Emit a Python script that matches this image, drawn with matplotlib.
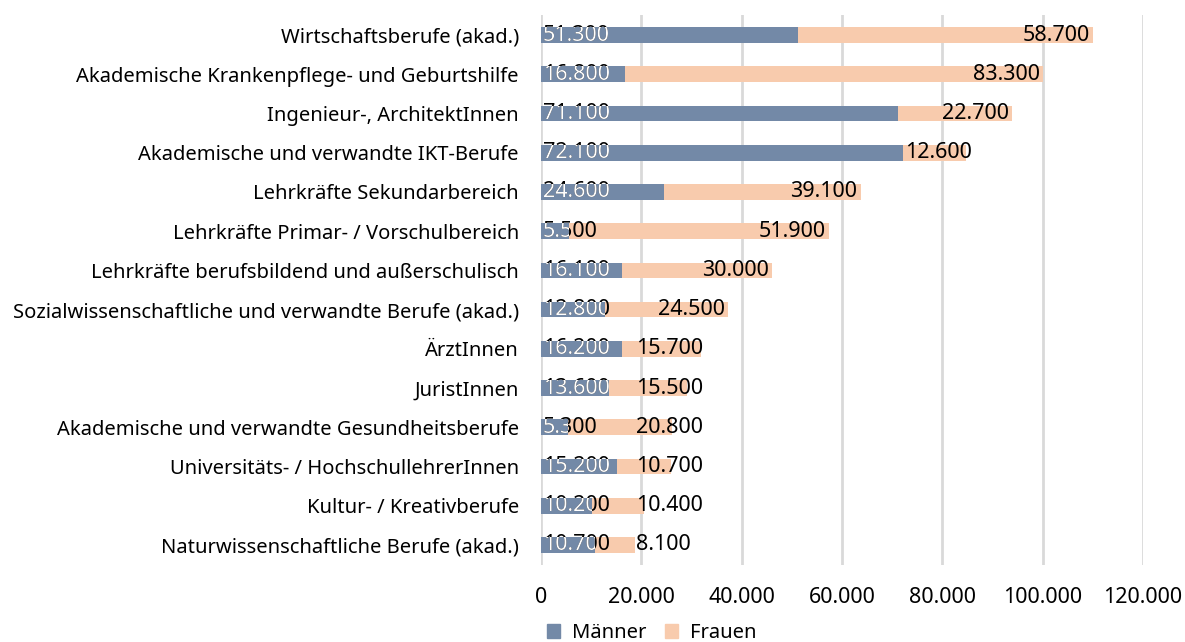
import matplotlib
matplotlib.use("Agg")
import matplotlib.pyplot as plt
from matplotlib.patches import Patch

plt.rcParams['font.family'] = ['Noto Sans', 'DejaVu Sans']

# Daten
categories = [
    "Wirtschaftsberufe (akad.)",
    "Akademische Krankenpflege- und Geburtshilfe",
    "Ingenieur-, ArchitektInnen",
    "Akademische und verwandte IKT-Berufe",
    "Lehrkräfte Sekundarbereich",
    "Lehrkräfte Primar- / Vorschulbereich",
    "Lehrkräfte berufsbildend und außerschulisch",
    "Sozialwissenschaftliche und verwandte Berufe (akad.)",
    "ÄrztInnen",
    "JuristInnen",
    "Akademische und verwandte Gesundheitsberufe",
    "Universitäts- / HochschullehrerInnen",
    "Kultur- / Kreativberufe",
    "Naturwissenschaftliche Berufe (akad.)",
]
maenner = [51300, 16800, 71100, 72100, 24600, 5500, 16100, 12800, 16200, 13600, 5300, 15200, 10200, 10700]
frauen = [58700, 83300, 22700, 12600, 39100, 51900, 30000, 24500, 15700, 15500, 20800, 10700, 10400, 8100]
xticks = [0, 20000, 40000, 60000, 80000, 100000, 120000]

blue = "#7389a7"
peach = "#f8cbad"


def fmt(v):
    return f"{v:,}".replace(",", ".")


W, H = 1185, 642
fig = plt.figure(figsize=(W / 100, H / 100), dpi=100)
ax = fig.add_axes([541 / W, 1 - 564.6 / H, (1143 - 541) / W, (564.6 - 15.4) / H])

ypos = list(range(len(categories)))
bm = ax.barh(ypos, maenner, height=0.4, color=blue, zorder=2)
bf = ax.barh(ypos, frauen, left=maenner, height=0.4, color=peach, zorder=2)

ax.set_ylim(len(categories) - 0.5, -0.5)
ax.set_xlim(0, 120000)
ax.set_xticks(xticks)
ax.set_xticklabels([fmt(t) for t in xticks])
ax.set_yticks(ypos)
ax.set_yticklabels(categories)
ax.grid(axis='x', color='#d9d9d9', lw=2, zorder=0)
ax.set_axisbelow(True)
for s in ax.spines.values():
    s.set_visible(False)
ax.tick_params(axis='y', length=0, pad=16, labelsize=14.5, colors='black')
ax.tick_params(axis='x', length=0, pad=16, labelsize=15.5, colors='black')

fs = 15.5
fig.canvas.draw()
r = fig.canvas.get_renderer()
inv = ax.transData.inverted()

# Männer-Labels: schwarz, darüber weiß auf den Balken geclippt
m_ends = []
for i, (m, bar) in enumerate(zip(maenner, bm)):
    px, py = ax.transData.transform((0, i))
    x0 = inv.transform((px + 2, py))[0]
    t1 = ax.text(x0, i, fmt(m), ha='left', va='center', fontsize=fs, color='black', zorder=3)
    t2 = ax.text(x0, i, fmt(m), ha='left', va='center', fontsize=fs, color='white', zorder=4,
                 clip_on=True)
    t2.set_clip_path(bar)
    m_ends.append(t1.get_window_extent(r).x1)

# Frauen-Labels: rechtsbündig am Balkenende, kurze Werte weiter rechts
min_px = ax.transData.transform((19000, 0))[0]
for i, (m, f) in enumerate(zip(maenner, frauen)):
    t = ax.text(0, i, fmt(f), ha='left', va='center', fontsize=fs, color='black', zorder=3)
    w = t.get_window_extent(r).width
    end_px = ax.transData.transform((m + f, i))[0]
    start_px = ax.transData.transform((m, i))[0]
    x_px = max(end_px - 3 - w, start_px + 2, m_ends[i] + 22, min_px)
    t.set_x(inv.transform((x_px, 0))[0])

handles = [Patch(color=blue, label="Männer"), Patch(color=peach, label="Frauen")]
fig.legend(handles=handles, loc='center', bbox_to_anchor=(652 / W, 1 - 633 / H), ncol=2,
           frameon=False, fontsize=14.5, handlelength=0.65, handleheight=0.65,
           handletextpad=0.6, columnspacing=0.9, borderpad=0)

fig.savefig("out.png", dpi=100)
